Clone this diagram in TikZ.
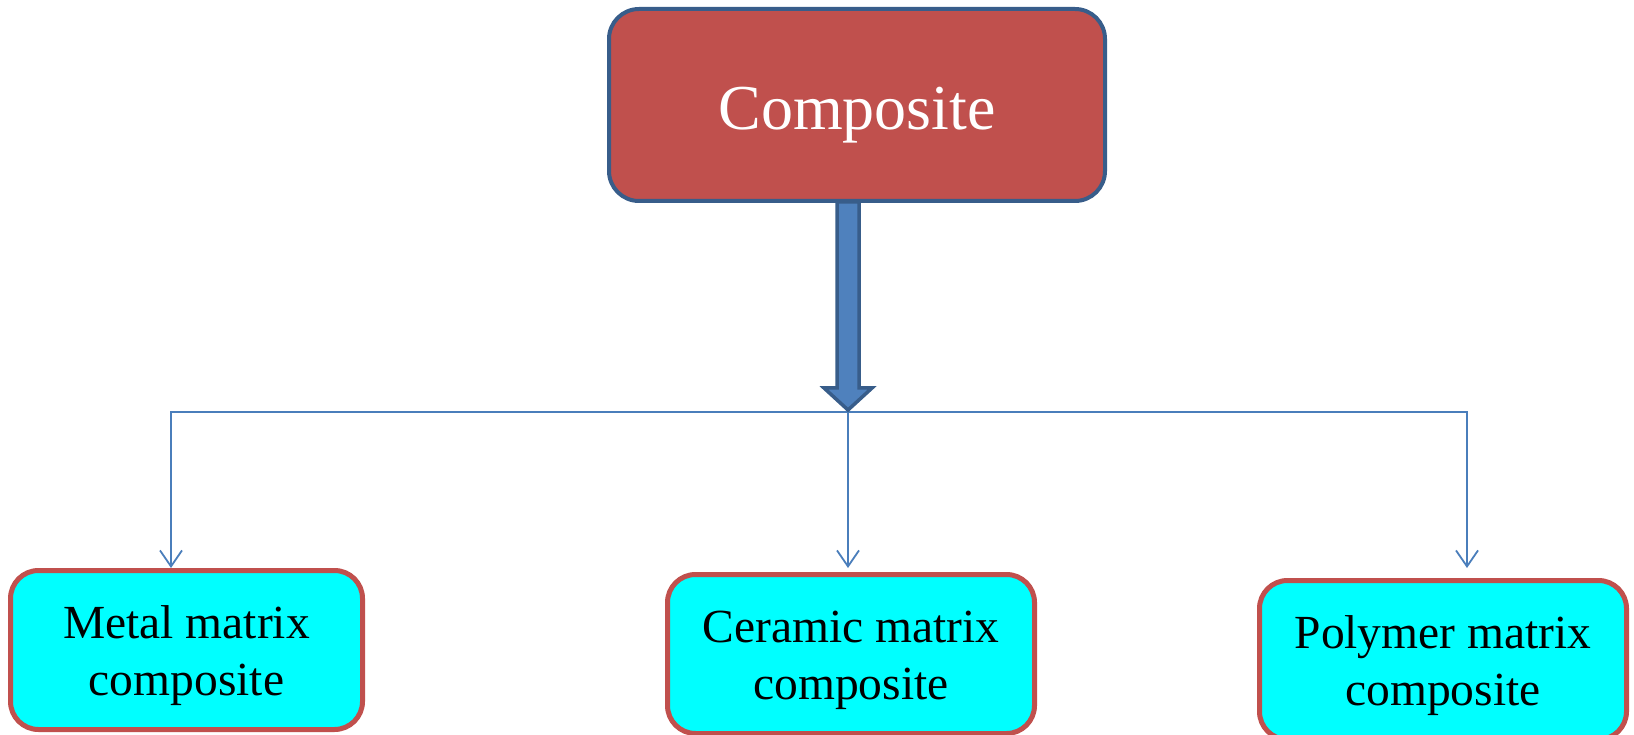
\documentclass[tikz,border=0pt]{standalone}
\usepackage{fontspec}
\setmainfont{Liberation Serif}
\usetikzlibrary{arrows.meta,calc}
\definecolor{topfill}{HTML}{C0504D}
\definecolor{topedge}{HTML}{385D8A}
\definecolor{cyanfill}{HTML}{00FFFF}
\definecolor{boxedge}{HTML}{C0504D}
\definecolor{linkblue}{HTML}{4A7EBB}
\definecolor{arrowfill}{HTML}{4F81BD}
\begin{document}
\begin{tikzpicture}[x=1pt,y=-1pt,
  topbox/.style={draw=topedge, fill=topfill, line width=4pt, rounded corners=30pt,
    minimum width=496pt, minimum height=192pt, text=white,
    font=\fontsize{64}{77}\selectfont, text height=64pt, text depth=14pt, inner sep=0pt},
  matbox/.style={draw=boxedge, fill=cyanfill, line width=5pt, rounded corners=28pt,
    minimum height=159pt, align=center, font=\fontsize{47.5}{57}\selectfont,
    inner sep=0pt, text height=100pt, text depth=10pt},
  link/.style={draw=linkblue, line width=1.8pt},
  linkarrow/.style={link, -{Straight Barb[length=16pt,width=22pt]}},
  bigarrow/.style={draw=topedge, fill=arrowfill, line width=3.5pt, line join=miter}
]
\useasboundingbox (0,0) rectangle (1634,735);
\clip (0,0) rectangle (1634,735);
\node[topbox] (top) at (857,105) {Composite};
\node[matbox, minimum width=352pt] (metal) at (186.5,650) {Metal matrix\\composite};
\node[matbox, minimum width=367pt] (ceramic) at (851,654) {Ceramic matrix\\composite};
\node[matbox, minimum width=367pt] (polymer) at (1443,660) {Polymer matrix\\composite};
\coordinate (hub) at (848,412);
\draw[linkarrow] (hub) -| ($(metal.north)+(-15.5,0)$);
\draw[linkarrow] (hub) -| ($(polymer.north)+(24,-10)$);
\draw[linkarrow] (hub) -- ($(hub |- ceramic.north)+(0,-4)$);
\draw[bigarrow] ($(hub |- top.south)+(-11,-1)$) -- ($(hub |- top.south)+(11,-1)$)
  -- ($(hub)+(11,-24)$) -- ($(hub)+(24,-24)$) -- ($(hub)+(0,-2)$)
  -- ($(hub)+(-24,-24)$) -- ($(hub)+(-11,-24)$) -- cycle;
\end{tikzpicture}
\end{document}
